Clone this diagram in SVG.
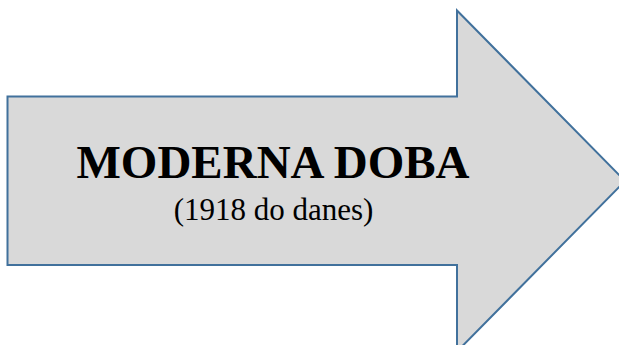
<svg xmlns="http://www.w3.org/2000/svg" width="619" height="345" viewBox="0 0 619 345">
  <style>
    .arrow { fill: #D9D9D9; stroke: #41719C; stroke-width: 2; stroke-linejoin: miter; }
    .title { font-family: "Liberation Serif", "Times New Roman", serif; font-weight: bold; font-size: 47px; fill: #000; text-anchor: middle; }
    .sub { font-family: "Liberation Serif", "Times New Roman", serif; font-size: 31px; fill: #000; text-anchor: middle; }
  </style>
  <rect width="619" height="345" fill="#FFFFFF"/>
  <g id="arrow-node">
    <polygon class="arrow" points="7.5,96.5 457,96.5 457,10.5 625,181 457,351.5 457,265 7.5,265"/>
    <text class="title" x="273" y="178">MODERNA DOBA</text>
    <text class="sub" x="273.5" y="220">(1918 do danes)</text>
  </g>
  <g id="connectors"></g>
</svg>
